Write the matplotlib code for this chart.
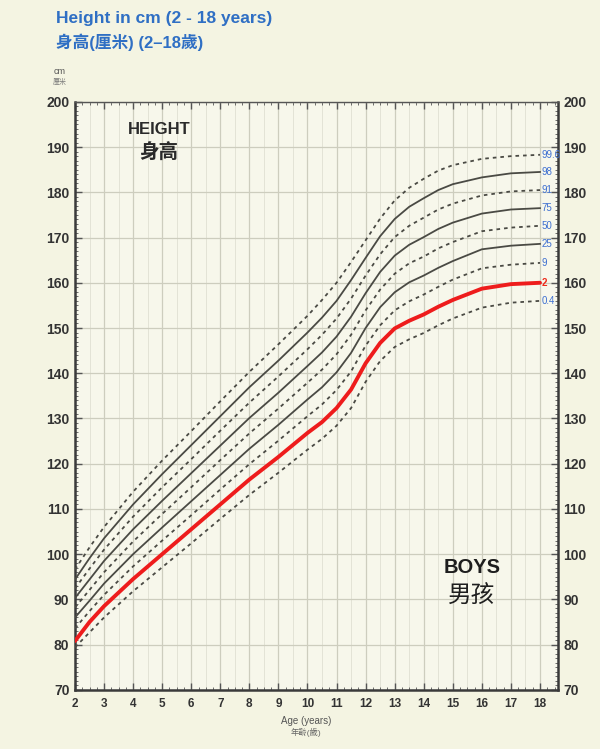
import matplotlib
matplotlib.use("Agg")
import matplotlib.pyplot as plt
from matplotlib.ticker import MultipleLocator

plt.rcParams['font.family'] = ['Liberation Sans', 'Noto Sans CJK TC', 'DejaVu Sans']

ages = [2, 2.5, 3, 4, 5, 6, 7, 8, 9, 10, 10.5, 11, 11.5, 12, 12.5, 13, 13.5, 14, 14.5, 15, 16, 17, 18]

# centile curves (cm)
c0_4 = [79.4, 82.7, 86.0, 91.8, 97.1, 102.4, 107.8, 113.1, 118.0, 123.1, 125.5, 128.4, 132.3, 138.1,
        142.7, 145.8, 147.5, 148.9, 150.6, 152.1, 154.5, 155.6, 156.0]
c2 = [80.8, 85.0, 88.5, 94.5, 100.0, 105.5, 111.0, 116.5, 121.5, 126.8, 129.2, 132.3, 136.4, 142.2,
      146.7, 149.9, 151.6, 153.0, 154.7, 156.2, 158.7, 159.7, 160.0]
c9 = [83.6, 87.4, 91.0, 97.3, 103.0, 108.6, 114.3, 119.9, 125.1, 130.5, 133.1, 136.3, 140.4, 146.1,
      150.6, 153.9, 155.9, 157.4, 159.1, 160.7, 163.2, 164.0, 164.4]
c25 = [86.0, 89.7, 93.5, 100.0, 105.9, 111.7, 117.5, 123.3, 128.6, 134.2, 136.9, 140.2, 144.5, 150.0,
       154.6, 157.9, 160.1, 161.6, 163.3, 164.8, 167.4, 168.2, 168.6]
c50 = [88.2, 92.1, 96.0, 102.8, 108.9, 114.8, 120.8, 126.7, 132.2, 137.9, 140.8, 144.2, 148.5, 153.9,
       158.5, 162.0, 164.3, 165.8, 167.6, 169.0, 171.4, 172.2, 172.6]
c75 = [90.3, 94.4, 98.5, 105.5, 111.8, 117.9, 124.0, 130.1, 135.7, 141.6, 144.6, 148.1, 152.5, 157.7,
       162.4, 166.0, 168.4, 170.1, 171.9, 173.3, 175.3, 176.2, 176.5]
c91 = [92.4, 96.8, 101.0, 108.3, 114.8, 121.0, 127.3, 133.5, 139.3, 145.3, 148.5, 152.1, 156.5, 161.6,
       166.3, 170.1, 172.6, 174.4, 176.2, 177.5, 179.3, 180.2, 180.5]
c98 = [94.4, 99.1, 103.5, 111.0, 117.7, 124.1, 130.5, 136.9, 142.8, 149.0, 152.3, 156.0, 160.6, 165.5,
       170.3, 174.1, 176.8, 178.7, 180.5, 181.8, 183.3, 184.2, 184.5]
c99_6 = [96.6, 101.5, 106.0, 113.8, 120.7, 127.2, 133.8, 140.3, 146.4, 152.7, 156.2, 160.0, 164.6, 169.4,
         174.2, 178.2, 181.0, 183.0, 184.8, 186.0, 187.4, 188.0, 188.3]

centiles = ["0.4", "2", "9", "25", "50", "75", "91", "98", "99.6"]
curves = [c0_4, c2, c9, c25, c50, c75, c91, c98, c99_6]
solid = ["98", "75", "25"]

bg = "#f4f4e2"
fig = plt.figure(figsize=(6, 7.49), dpi=100, facecolor=bg)
ax = fig.add_axes([0.125, 0.079, 0.805, 0.785])
ax.set_facecolor("#f7f7eb")

for name, vals in zip(centiles, curves):
    if name == "2":
        ax.plot(ages, vals, color="#ee1c1c", lw=2.8, zorder=4, solid_capstyle="round")
        lab_col = "#ee2a1a"
    elif name in solid:
        ax.plot(ages, vals, color="#4a4a44", lw=1.3, zorder=3)
        lab_col = "#3d6fd1"
    else:
        ax.plot(ages, vals, color="#4a4a44", lw=1.3, ls=(0, (2, 2.2)), zorder=3)
        lab_col = "#3d6fd1"
    ax.text(18.05, vals[-1], name, color=lab_col, fontsize=7, va="center", ha="left",
            fontweight="bold" if name == "2" else "normal")

ax.set_xlim(2, 18.62)
ax.set_ylim(70, 200)
ax.xaxis.set_major_locator(MultipleLocator(1))
ax.xaxis.set_minor_locator(MultipleLocator(0.25))
ax.yaxis.set_major_locator(MultipleLocator(10))
ax.yaxis.set_minor_locator(MultipleLocator(1))
ax.set_xticks(range(2, 19))
ax.grid(which="major", color="#cdcdbe", lw=0.9)
ax.set_axisbelow(True)
for v in [a + 0.5 for a in range(2, 18)]:
    ax.axvline(v, color="#e0e0d2", lw=0.6, zorder=0)

ax.tick_params(which="both", direction="in", color="#555555", top=True, right=True,
               labelright=True, labelsize=10, labelcolor="#333333", pad=4)
ax.tick_params(which="major", length=5, width=1)
ax.tick_params(which="minor", length=2.5, width=0.6)
ax.tick_params(axis="x", labelsize=8.5, pad=6)
for lab in ax.get_yticklabels() + ax.get_xticklabels():
    lab.set_fontweight("bold")
for side in ["left", "bottom", "right"]:
    ax.spines[side].set_linewidth(1.8)
    ax.spines[side].set_color("#3a3a3a")
ax.spines["top"].set_linewidth(1.0)
ax.spines["top"].set_color("#555555")

fig.text(0.093, 0.975, "Height in cm (2 - 18 years)", color="#2f6fc4", fontsize=12.5,
         fontweight="bold", va="center")
fig.text(0.093, 0.943, "身高(厘米) (2–18歲)", color="#2f6fc4", fontsize=12,
         fontweight="bold", va="center")
fig.text(0.1, 0.904, "cm", color="#555555", fontsize=6.5, ha="center", va="center")
fig.text(0.1, 0.89, "厘米", color="#777777", fontsize=5, ha="center", va="center")

ax.text(4.9, 193.8, "HEIGHT", fontsize=12, fontweight="bold", color="#2a2a2a", ha="center", va="center")
ax.text(4.9, 188.7, "身高", fontsize=14, fontweight="bold", color="#2a2a2a", ha="center", va="center")
ax.text(15.65, 97.0, "BOYS", fontsize=14.5, fontweight="bold", color="#1e1e1e", ha="center", va="center")
ax.text(15.65, 90.6, "男孩", fontsize=17, color="#1e1e1e", ha="center", va="center")

fig.text(0.51, 0.037, "Age (years)", color="#555555", fontsize=7, ha="center", va="center")
fig.text(0.51, 0.022, "年齡(歲)", color="#666666", fontsize=6, ha="center", va="center")

fig.savefig("out.png", dpi=100, facecolor=bg)
